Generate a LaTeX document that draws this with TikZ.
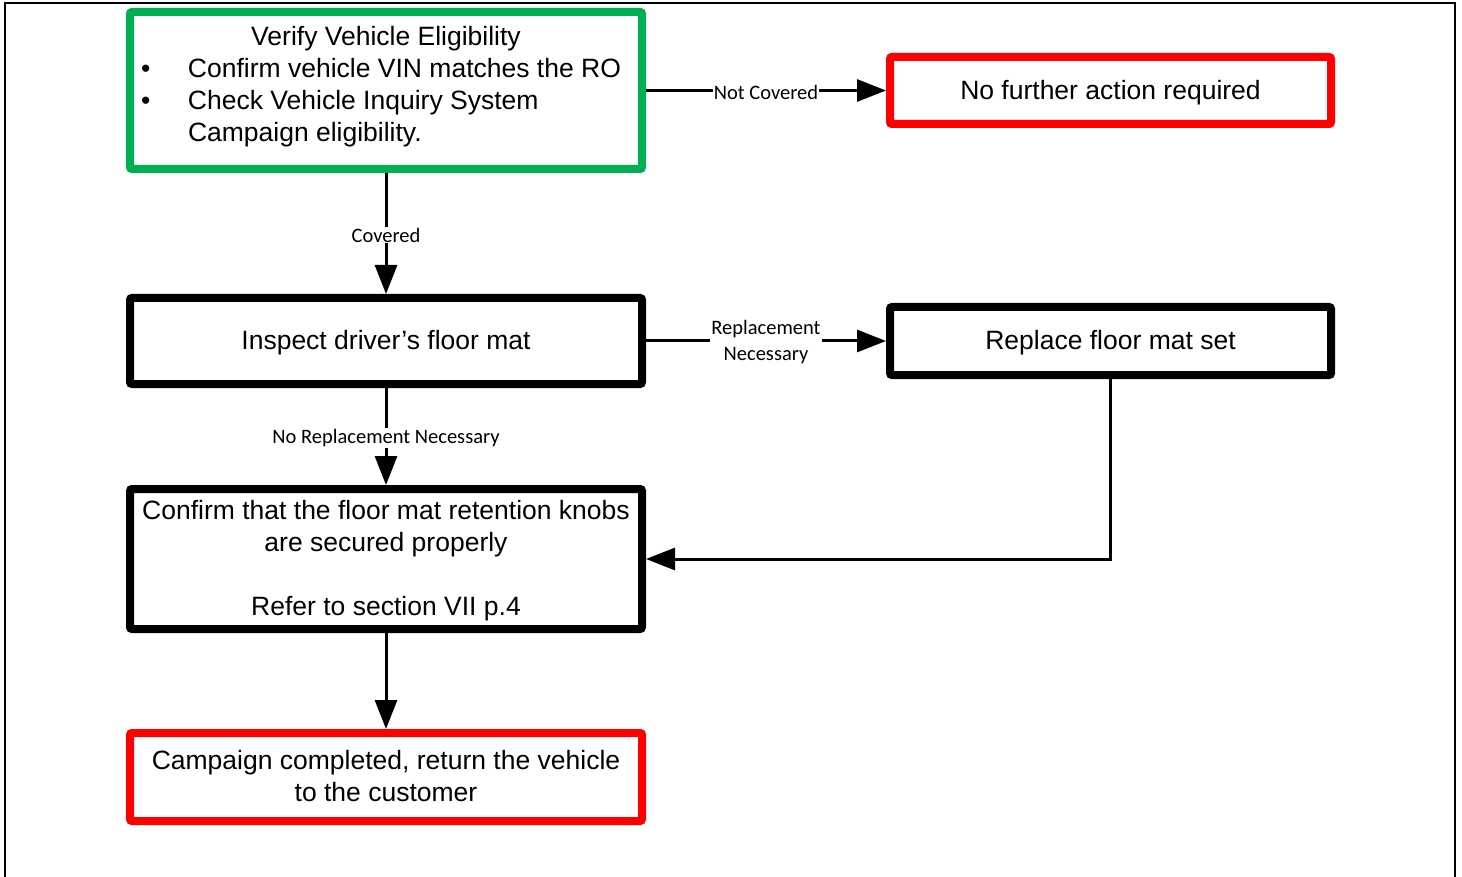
\documentclass[tikz,border=0pt]{standalone}
\usepackage{fontspec}
\setmainfont{Liberation Sans}
\newfontfamily\lblfont{Carlito}
\usetikzlibrary{arrows.meta}
\definecolor{boxgreen}{RGB}{0,176,80}
\definecolor{boxred}{RGB}{255,0,0}
% box text: lines 32pt apart, set slightly lower than the geometric centre
\newcommand\boxtxt[1]{\raisebox{0pt}[\dimexpr\height+5pt\relax][\depth]{\begin{tabular}{@{}c@{}}#1\end{tabular}}}
\tikzset{
  box/.style={draw=black, line width=8pt, rounded corners=2pt, inner sep=0pt,
    font={\fontsize{26.5}{32}\selectfont}},
  greenbox/.style={box, draw=boxgreen},
  redbox/.style={box, draw=boxred},
  conn/.style={line width=3pt, -{Triangle[length=29pt,width=22pt]}},
  lbl/.style={fill=white, inner sep=1pt, align=center, yshift=-1.5pt,
    font={\lblfont\fontsize{20.5}{26}\selectfont}},
}
\begin{document}
\begin{tikzpicture}[x=1pt,y=-1pt]
\useasboundingbox (0,0) rectangle (1462,877);
% outer frame
\draw[line width=2pt] (5,880) -- (5,3) -- (1455,3) -- (1455,880);

\node[greenbox, minimum width=512pt, minimum height=157pt] (verify) at (386,90.5)
  {\parbox{500pt}{\centering Verify Vehicle Eligibility\par
   \raggedright
   \hspace*{5pt}\makebox[47pt][l]{\textbullet}Confirm vehicle VIN matches the RO\par
   \hspace*{5pt}\makebox[47pt][l]{\textbullet}Check Vehicle Inquiry System\par
   \hspace*{52pt}Campaign eligibility.\par
   \vspace*{7pt}}};
\node[redbox, minimum width=441pt, minimum height=67pt] (nofurther) at (1110.5,90.5)
  {\boxtxt{No further action required}};
\node[box, minimum width=512pt, minimum height=86pt] (inspect) at (386,341)
  {\boxtxt{Inspect driver’s floor mat}};
\node[box, minimum width=441pt, minimum height=68pt] (replace) at (1110.5,341)
  {\boxtxt{Replace floor mat set}};
\node[box, minimum width=512pt, minimum height=140pt] (confirm) at (386,559)
  {\boxtxt{Confirm that the floor mat retention knobs\\ are secured properly\\[32pt] Refer to section VII p.4}};
\node[redbox, minimum width=512pt, minimum height=88pt] (campaign) at (386,777)
  {\boxtxt{Campaign completed, return the vehicle\\ to the customer}};

\draw[conn] (verify.east) -- node[lbl] {Not Covered} (nofurther.west);
\draw[conn] (verify.south) -- node[lbl] {Covered} (inspect.north);
\draw[conn] (inspect.east) -- node[lbl] {Replacement\\ Necessary} (replace.west);
\draw[conn] (inspect.south) -- node[lbl] {No Replacement Necessary} (confirm.north);
\draw[conn] (replace.south) |- (confirm.east);
\draw[conn] (confirm.south) -- (campaign.north);
\end{tikzpicture}
\end{document}
